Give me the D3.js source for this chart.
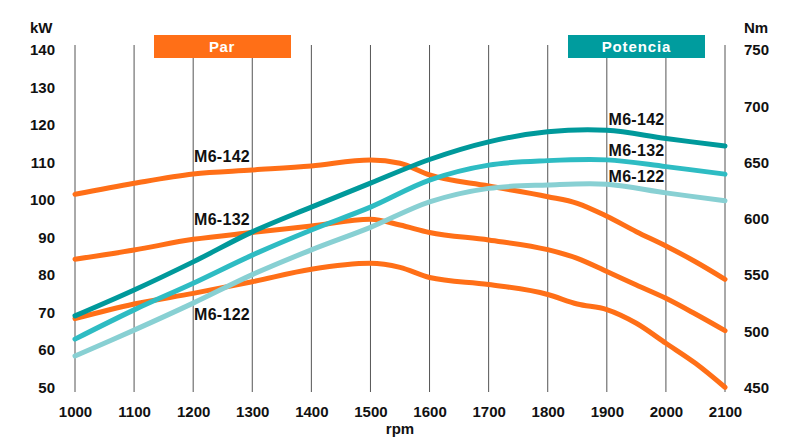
<!DOCTYPE html>
<html>
<head>
<meta charset="utf-8">
<script src="https://cdn.jsdelivr.net/npm/d3@7"></script>
<style>
  html, body { margin: 0; padding: 0; background: #fff; }
  svg { display: block; font-family: "Liberation Sans", Arial, Helvetica, sans-serif; }
</style>
</head>
<body>
<svg id="chart" width="811" height="439"></svg>
<script>
// ---- data ----
const rpmTicks = [1000, 1100, 1200, 1300, 1400, 1500, 1600, 1700, 1800, 1900, 2000, 2100];
const kwTicks = [50, 60, 70, 80, 90, 100, 110, 120, 130, 140];
const nmTicks = [450, 500, 550, 600, 650, 700, 750];

const powerRpm = [1000, 1100, 1200, 1300, 1400, 1500, 1600, 1700, 1800, 1900, 2000, 2100];
const powerM6_142 = [69.1, 76.0, 83.5, 91.5, 98.1, 104.5, 110.8, 115.5, 118.2, 118.6, 116.4, 114.4];
const powerM6_132 = [62.9, 70.7, 77.8, 85.3, 92.0, 98.1, 105.3, 109.3, 110.5, 110.7, 108.9, 106.9];
const powerM6_122 = [58.4, 65.3, 72.5, 80.1, 86.7, 92.7, 99.5, 103.1, 104.0, 104.2, 101.9, 99.8];

const torqueRpm = [1000, 1100, 1200, 1300, 1400, 1500, 1550, 1600, 1700, 1800, 1850, 1900, 1950, 2000, 2050, 2100];
const torqueM6_142 = [621.7, 631.5, 639.8, 643.3, 646.9, 652.2, 649.3, 638.9, 629.1, 619.6, 613.7, 602.2, 588.5, 575.8, 561.8, 546.2];
const torqueM6_132 = [564.0, 572.2, 581.7, 587.8, 593.6, 599.5, 594.4, 587.8, 581.1, 572.5, 564.8, 553.1, 541.1, 529.3, 515.3, 500.5];
const torqueM6_122 = [511.2, 524.2, 533.7, 544.0, 555.1, 560.4, 556.8, 547.8, 541.6, 532.7, 524.2, 519.3, 507.1, 489.3, 471.5, 450.2];

const legendLabels = ["Par", "Potencia"];
const modelLabels = ["M6-142", "M6-132", "M6-122"];

// ---- layout ----
const svg = d3.select("#chart");
const x = d3.scaleLinear().domain([1000, 2100]).range([75, 725]);
const yKw = d3.scaleLinear().domain([50, 140]).range([387.5, 50]);
const yNm = d3.scaleLinear().domain([450, 750]).range([387.5, 50]);

const orange = "#FF6F17";
const teal = ["#00999B", "#2EBCC3", "#88D0D3"];

// vertical grid lines
svg.append("g").selectAll("line").data(rpmTicks).join("line")
  .attr("x1", d => x(d)).attr("x2", d => x(d))
  .attr("y1", 45).attr("y2", 392)
  .attr("stroke", "#555").attr("stroke-width", 1);

// legend boxes
const legend = svg.append("g");
legend.append("rect").attr("x", 154).attr("y", 35).attr("width", 137).attr("height", 23).attr("fill", orange);
legend.append("text").attr("x", 222).attr("y", 52).attr("text-anchor", "middle")
  .attr("fill", "#fff").attr("font-size", 15).attr("font-weight", "bold").attr("letter-spacing", 0.6).text(legendLabels[0]);
legend.append("rect").attr("x", 568).attr("y", 35).attr("width", 137).attr("height", 23).attr("fill", "#009C9E");
legend.append("text").attr("x", 636.5).attr("y", 52).attr("text-anchor", "middle")
  .attr("fill", "#fff").attr("font-size", 15).attr("font-weight", "bold").attr("letter-spacing", 0.9).text(legendLabels[1]);

// axes (text only)
const axisFont = g => g.selectAll("text").attr("font-size", 15).attr("font-weight", "bold").attr("fill", "#111")
  .attr("font-family", "'Liberation Sans', Arial, sans-serif");

const leftAxis = svg.append("g").attr("transform", "translate(75,0)")
  .call(d3.axisLeft(yKw).tickValues(kwTicks).tickSize(0).tickPadding(20));
leftAxis.select(".domain").remove();
axisFont(leftAxis);

const rightAxis = svg.append("g").attr("transform", "translate(725,0)")
  .call(d3.axisRight(yNm).tickValues(nmTicks).tickSize(0).tickPadding(19));
rightAxis.select(".domain").remove();
axisFont(rightAxis);

const bottomAxis = svg.append("g").attr("transform", "translate(0,392)")
  .call(d3.axisBottom(x).tickValues(rpmTicks).tickFormat(d3.format("d")).tickSize(0).tickPadding(14));
bottomAxis.select(".domain").remove();
axisFont(bottomAxis);

// axis titles
svg.append("text").attr("x", 30).attr("y", 33).attr("font-size", 15).attr("font-weight", "bold").attr("fill", "#111").text("kW");
svg.append("text").attr("x", 744).attr("y", 33).attr("font-size", 15).attr("font-weight", "bold").attr("fill", "#111").text("Nm");
svg.append("text").attr("x", 400).attr("y", 434).attr("text-anchor", "middle").attr("font-size", 15).attr("font-weight", "bold").attr("fill", "#111").text("rpm");

// curves
const torqueLine = d3.line().x(d => x(d[0])).y(d => yNm(d[1])).curve(d3.curveMonotoneX);
const powerLine = d3.line().x(d => x(d[0])).y(d => yKw(d[1])).curve(d3.curveCatmullRom.alpha(0.5));

[torqueM6_142, torqueM6_132, torqueM6_122].forEach(vals => {
  svg.append("path").datum(d3.zip(torqueRpm, vals)).attr("d", torqueLine)
    .attr("fill", "none").attr("stroke", orange).attr("stroke-width", 5).attr("stroke-linecap", "round");
});
[powerM6_142, powerM6_132, powerM6_122].forEach((vals, i) => {
  svg.append("path").datum(d3.zip(powerRpm, vals)).attr("d", powerLine)
    .attr("fill", "none").attr("stroke", teal[i]).attr("stroke-width", 5).attr("stroke-linecap", "round");
});

// model labels
const labStyle = s => s.attr("font-size", 16).attr("font-weight", "bold").attr("fill", "#111").attr("letter-spacing", 0.3);
const leftLabelY = [161.5, 224.5, 319.5];
const rightLabelY = [125, 156, 181.5];
modelLabels.forEach((t, i) => {
  svg.append("text").attr("x", 194).attr("y", leftLabelY[i]).text(t).call(labStyle);
  svg.append("text").attr("x", 608.5).attr("y", rightLabelY[i]).text(t).call(labStyle);
});
</script>
</body>
</html>
